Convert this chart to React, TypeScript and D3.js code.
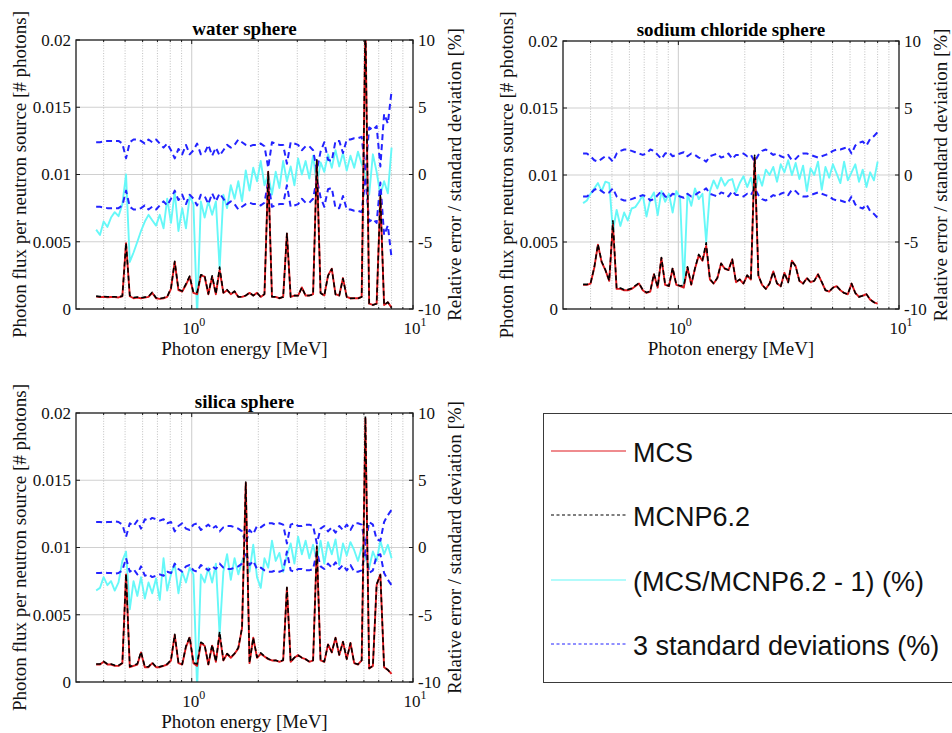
import React from "react";
import * as d3 from "d3";

// Photon energy grid [MeV]
const ENERGY = [
  0.370, 0.385, 0.400, 0.416, 0.432, 0.449, 0.467, 0.486, 0.505, 0.525,
  0.546, 0.568, 0.590, 0.614, 0.638, 0.663, 0.690, 0.717, 0.746, 0.775,
  0.806, 0.838, 0.871, 0.906, 0.942, 0.979, 1.018, 1.058, 1.100, 1.144,
  1.189, 1.237, 1.286, 1.337, 1.390, 1.445, 1.502, 1.562, 1.624, 1.688,
  1.755, 1.825, 1.897, 1.973, 2.051, 2.132, 2.217, 2.305, 2.396, 2.491,
  2.590, 2.693, 2.800, 2.911, 3.026, 3.146, 3.271, 3.401, 3.536, 3.676,
  3.822, 3.973, 4.131, 4.295, 4.465, 4.642, 4.826, 5.018, 5.217, 5.424,
  5.639, 5.862, 6.095, 6.337, 6.588, 6.849, 7.121, 7.403, 7.697, 8.002,
];

// ---- water sphere ----
const WATER_MCS = [
  0.00092, 0.00088, 0.00090, 0.00087, 0.00089, 0.00088, 0.00086, 0.00095, 0.0049, 0.00095,
  0.00080, 0.00085, 0.00080, 0.00085, 0.00090, 0.0012, 0.00080, 0.00075, 0.00080, 0.00090,
  0.0015, 0.0035, 0.0014, 0.0013, 0.0018, 0.0024, 0.0012, 0.0011, 0.0025, 0.0024,
  0.0011, 0.0024, 0.0011, 0.0029, 0.0012, 0.0014, 0.0011, 0.0013, 0.00090, 0.00090,
  0.0010, 0.0012, 0.0010, 0.0012, 0.00090, 0.0011, 0.0102, 0.00090, 0.00090, 0.00080,
  0.00090, 0.0056, 0.00090, 0.0010, 0.0010, 0.0016, 0.0010, 0.0010, 0.0011, 0.0110,
  0.0012, 0.0010, 0.0025, 0.0030, 0.0011, 0.0010, 0.0023, 0.00090, 0.00080, 0.00080,
  0.00080, 0.00090, 0.0215, 0.00040, 0.00030, 0.00040, 0.0083, 0.00030, 0.00050, 0.00010,
];
const WATER_REL = [
  -4.1, -4.5, -3.5, -3.9, -3.2, -2.8, -3.1, -2.2, 0.0, -6.5,
  -5.8, -5.0, -4.2, -3.5, -3.0, -3.4, -3.8, -3.0, -4.0, -1.8,
  -3.6, -1.3, -4.2, -2.5, -4.0, -1.6, -2.2, -10.5, -2.0, -3.2,
  -2.0, -3.0, -2.0, -7.0, -1.5, -2.5, -0.8, -1.8, -0.5, -2.0,
  0.3, -1.2, 0.5, -0.5, 1.0, -0.8, 0.0, -1.5, 0.2, -1.0,
  1.0, -0.5, 0.6, -0.8, 1.2, 0.0, 1.0, -0.3, 1.4, -0.8,
  0.9, 0.2, 1.5, 0.5, 1.8, 0.6, 1.6, 0.3, 1.4, 0.5,
  1.7, 0.8, 0.0, -1.5, 1.5, 0.2, -1.5, -0.5, -1.4, 2.0,
];
const WATER_SIG3 = [
  2.4, 2.4, 2.45, 2.5, 2.5, 2.5, 2.5, 2.3, 1.2, 2.4,
  2.6, 2.6, 2.5, 2.3, 2.6, 2.4, 2.6, 2.3, 2.0, 2.3,
  1.8, 1.2, 1.9, 1.5, 2.2, 1.5, 1.8, 2.3, 1.5, 1.6,
  2.2, 1.4, 2.0, 1.4, 1.8, 2.2, 2.0, 2.2, 2.6, 2.4,
  2.2, 2.1, 2.2, 2.2, 2.3, 2.1, 0.5, 2.4, 2.3, 2.2,
  2.2, 0.8, 2.4, 2.3, 2.2, 1.8, 2.1, 2.1, 1.8, 0.3,
  1.7, 2.4, 1.1, 1.0, 2.5, 2.5, 1.6, 2.6, 2.6, 2.7,
  2.7, 2.8, 0.2, 3.5, 3.3, 3.6, 0.6, 4.5, 3.8, 6.2,
];

// ---- sodium chloride sphere ----
const NACL_MCS = [
  0.0018, 0.0018, 0.0019, 0.0031, 0.0048, 0.0035, 0.0029, 0.0021, 0.0063, 0.0015,
  0.0015, 0.0014, 0.0014, 0.0015, 0.0017, 0.0019, 0.0014, 0.0012, 0.0013, 0.0026,
  0.0016, 0.0038, 0.0018, 0.0017, 0.0030, 0.0018, 0.0017, 0.0016, 0.0031, 0.0018,
  0.0030, 0.0040, 0.0036, 0.0047, 0.0022, 0.0019, 0.0023, 0.0034, 0.0030, 0.0029,
  0.0037, 0.0020, 0.0022, 0.0019, 0.0025, 0.0022, 0.0113, 0.0025, 0.0018, 0.0015,
  0.0019, 0.0028, 0.0019, 0.0017, 0.0027, 0.0020, 0.0036, 0.0032, 0.0021, 0.0019,
  0.0023, 0.0020, 0.0021, 0.0026, 0.0020, 0.0014, 0.0013, 0.0016, 0.0017, 0.0014,
  0.0012, 0.0011, 0.0019, 0.0012, 0.00090, 0.0010, 0.0011, 0.00070, 0.00050, 0.00040,
];
const NACL_REL = [
  -2.1, -1.9, -1.4, -1.0, -0.6, -1.2, -0.5, -0.6, -4.2, -2.6,
  -3.8, -2.8, -3.4, -2.5, -2.4, -2.0, -1.5, -3.1, -1.8, -1.3,
  -3.0, -1.2, -2.0, -1.4, -2.8, -1.2, -1.7, -8.4, -1.4, -2.3,
  -1.0, -1.8, -1.4, -5.0, -1.2, -0.4, -1.0, -0.2, -0.8, -0.4,
  -0.3, -1.3, -0.6, -0.1, -0.9, -0.2, -1.5, 0.0, -0.8, 0.4,
  0.0, 0.6, -0.5, 0.8, 0.2, 1.1, 0.0, 0.9, -0.3, 0.7,
  -1.2, 0.5, 0.0, 1.0, -1.1, 0.6, -0.2, 0.8, 0.1, -0.6,
  1.0, -0.4, 0.2, 0.8, -0.5, 0.4, -0.9, 0.2, -0.4, 1.0,
];
const NACL_SIG3 = [
  1.6, 1.6, 1.4, 1.1, 1.0, 1.2, 1.4, 1.3, 1.0, 1.6,
  1.8, 1.9, 1.9, 1.8, 1.7, 1.6, 1.5, 1.6, 1.9, 1.8,
  1.5, 1.2, 1.6, 1.7, 1.4, 1.5, 1.6, 1.7, 1.4, 1.6,
  1.5, 1.3, 1.2, 1.0, 1.4, 1.5, 1.6, 1.3, 1.4, 1.6,
  1.2, 1.5, 1.5, 1.6, 1.4, 1.5, 1.0, 1.5, 1.8, 1.9,
  1.7, 1.5, 1.6, 1.4, 1.3, 1.5, 1.1, 1.2, 1.5, 1.6,
  1.6, 1.5, 1.4, 1.3, 1.4, 1.5, 1.6, 1.8, 1.9, 1.9,
  2.0, 2.1, 1.6, 2.2, 2.4, 2.5, 2.2, 2.7, 2.9, 3.2,
];

// ---- silica sphere ----
const SILICA_MCS = [
  0.0013, 0.0013, 0.0015, 0.0013, 0.0013, 0.0012, 0.0012, 0.0014, 0.0080, 0.0011,
  0.0012, 0.0013, 0.0022, 0.0011, 0.0011, 0.0014, 0.0011, 0.0011, 0.0012, 0.0013,
  0.0016, 0.0035, 0.0014, 0.0013, 0.0026, 0.0033, 0.0014, 0.0012, 0.0029, 0.0027,
  0.0013, 0.0027, 0.0015, 0.0035, 0.0016, 0.0021, 0.0018, 0.0021, 0.0025, 0.0040,
  0.0148, 0.0014, 0.0033, 0.0018, 0.0021, 0.0019, 0.0017, 0.0016, 0.0016, 0.0015,
  0.0016, 0.0070, 0.0015, 0.0018, 0.0020, 0.0018, 0.0017, 0.0015, 0.0016, 0.0100,
  0.0016, 0.0015, 0.0028, 0.0022, 0.0033, 0.0020, 0.0030, 0.0017, 0.0029, 0.0014,
  0.0013, 0.0016, 0.0196, 0.0010, 0.0012, 0.0072, 0.0080, 0.0011, 0.00090, 0.00060,
];
const SILICA_REL = [
  -3.2, -3.0, -2.2, -2.8, -2.5, -3.2, -2.6, -1.0, -0.3, -4.6,
  -2.5, -3.6, -2.2, -3.8, -2.6, -3.4, -2.3, -3.9, -0.8, -3.2,
  -2.0, -1.2, -3.4, -1.8, -2.6, -1.5, -2.0, -10.5, -2.0, -2.6,
  -1.5, -2.6, -1.2, -6.5, -1.8, -0.5, -2.4, -0.8, -2.0, -1.0,
  -0.5, -1.8, 0.2, -2.2, -3.0, -0.8, -1.5, 0.5, -1.0, -0.4,
  -1.8, -0.6, 0.3, -1.2, 0.8, -0.5, 0.5, -0.8, 0.2, -1.0,
  0.5, -1.2, 0.4, -0.5, 0.6, -1.3, 0.3, -0.6, 0.4, -0.2,
  -1.0, 0.0, -0.8, -1.5, -0.3, -1.0, 0.5, -0.5, 0.2, -0.8,
];
const SILICA_SIG3 = [
  1.9, 1.9, 1.85, 1.9, 1.9, 1.95, 1.9, 1.7, 0.8, 1.8,
  1.6, 2.0, 1.4, 2.1, 2.0, 2.2, 2.1, 2.0, 2.1, 1.8,
  1.9, 1.2, 1.6, 1.8, 1.4, 1.3, 1.7, 1.8, 1.3, 1.5,
  1.7, 1.4, 1.6, 1.2, 1.5, 1.6, 1.6, 1.5, 1.4, 1.2,
  0.3, 1.3, 1.0, 1.6, 1.5, 1.7, 1.8, 1.8, 1.7, 1.8,
  1.7, 0.3, 1.7, 1.8, 1.6, 1.6, 1.7, 1.7, 1.6, 0.3,
  1.4, 1.6, 1.2, 1.5, 1.1, 1.6, 1.3, 1.7, 1.3, 1.8,
  1.8, 1.7, 0.2, 1.9, 1.7, 0.6, 0.5, 1.9, 2.4, 2.8,
];

const Y_LEFT_TICKS = [0, 0.005, 0.01, 0.015, 0.02];
const Y_LEFT_LABELS = ["0", "0.005", "0.01", "0.015", "0.02"];
const Y_RIGHT_TICKS = [-10, -5, 0, 5, 10];
const Y_RIGHT_LABELS = ["-10", "-5", "0", "5", "10"];
const X_MAJOR = [1, 10];
const X_MAJOR_EXP = ["0", "1"];
const X_MINOR = [0.4, 0.5, 0.6, 0.7, 0.8, 0.9, 2, 3, 4, 5, 6, 7, 8, 9];
const LEGEND_LABELS = ["MCS", "MCNP6.2", "(MCS/MCNP6.2 - 1) (%)", "3 standard deviations (%)"];

const SERIF = "'Liberation Serif', 'Times New Roman', serif";
const SANS = "'Liberation Sans', Arial, sans-serif";
const RED = "#e0191e";
const CYAN = "#66f8f8";
const BLUE = "#2323ff";

type Box = { left: number; right: number; top: number; bottom: number };

function Panel(props: {
  id: string;
  box: Box;
  title: string;
  mcs: number[];
  rel: number[];
  sig: number[];
}) {
  const { id, box, title, mcs, rel, sig } = props;
  const { left, right, top, bottom } = box;
  const x = d3.scaleLog().domain([0.3, 10]).range([left, right]);
  const yL = d3.scaleLinear().domain([0, 0.02]).range([bottom, top]);
  const yR = d3.scaleLinear().domain([-10, 10]).range([bottom, top]);
  const mcnp = mcs.map((v, i) => v / (1 + rel[i] / 100));
  const lineL = d3
    .line<number>()
    .x((_, i) => x(ENERGY[i]))
    .y((d) => yL(d));
  const lineR = d3
    .line<number>()
    .x((_, i) => x(ENERGY[i]))
    .y((d) => yR(d));
  const sigUp = sig;
  const sigLo = sig.map((v) => -v);
  const cx = (left + right) / 2;
  const cy = (top + bottom) / 2;
  return (
    <g>
      <defs>
        <clipPath id={id}>
          <rect x={left} y={top} width={right - left} height={bottom - top} />
        </clipPath>
      </defs>
      <rect x={left} y={top} width={right - left} height={bottom - top} fill="#fff" />
      {/* grid */}
      {Y_LEFT_TICKS.slice(1, -1).map((t) => (
        <line key={"hg" + t} x1={left} x2={right} y1={yL(t)} y2={yL(t)} stroke="#d0d0d0" strokeWidth={1.1} />
      ))}
      {X_MINOR.map((t) => (
        <line key={"vm" + t} x1={x(t)} x2={x(t)} y1={top} y2={bottom} stroke="#b0b0b0" strokeWidth={0.8} strokeDasharray="1,1.6" />
      ))}
      <line x1={x(1)} x2={x(1)} y1={top} y2={bottom} stroke="#d0d0d0" strokeWidth={1.1} />
      {/* data */}
      <g clipPath={`url(#${id})`} fill="none" strokeLinejoin="round">
        <path d={lineR(rel) || ""} stroke={CYAN} strokeWidth={1.9} />
        <path d={lineR(sigUp) || ""} stroke={BLUE} strokeWidth={2} strokeDasharray="6,4" />
        <path d={lineR(sigLo) || ""} stroke={BLUE} strokeWidth={2} strokeDasharray="6,4" />
        <path d={lineL(mcs) || ""} stroke={RED} strokeWidth={1.9} />
        <path d={lineL(mcnp) || ""} stroke="#000" strokeWidth={1.6} strokeDasharray="5,3" />
      </g>
      {/* axes box */}
      <rect x={left} y={top} width={right - left} height={bottom - top} fill="none" stroke="#1a1a1a" strokeWidth={1.3} />
      {/* ticks */}
      {Y_LEFT_TICKS.map((t) => (
        <line key={"lt" + t} x1={left} x2={left + 4} y1={yL(t)} y2={yL(t)} stroke="#1a1a1a" />
      ))}
      {Y_RIGHT_TICKS.map((t) => (
        <line key={"rt" + t} x1={right - 4} x2={right} y1={yR(t)} y2={yR(t)} stroke="#1a1a1a" />
      ))}
      {X_MINOR.map((t) => (
        <g key={"xt" + t}>
          <line x1={x(t)} x2={x(t)} y1={bottom} y2={bottom - 2} stroke="#1a1a1a" />
          <line x1={x(t)} x2={x(t)} y1={top} y2={top + 2} stroke="#1a1a1a" />
        </g>
      ))}
      {X_MAJOR.map((t) => (
        <g key={"xT" + t}>
          <line x1={x(t)} x2={x(t)} y1={bottom} y2={bottom - 4} stroke="#1a1a1a" />
          <line x1={x(t)} x2={x(t)} y1={top} y2={top + 4} stroke="#1a1a1a" />
        </g>
      ))}
      {/* tick labels */}
      <g fontFamily={SERIF} fontSize={17} fill="#111">
        {Y_LEFT_TICKS.map((t, i) => (
          <text key={"ll" + t} x={left - 5} y={yL(t)} dy="0.35em" textAnchor="end">
            {Y_LEFT_LABELS[i]}
          </text>
        ))}
        {Y_RIGHT_TICKS.map((t, i) => (
          <text key={"rl" + t} x={right + 5} y={yR(t)} dy="0.35em" textAnchor="start">
            {Y_RIGHT_LABELS[i]}
          </text>
        ))}
        {X_MAJOR.map((t, i) => (
          <text key={"xl" + t} x={x(t) + 2} y={bottom + 25} textAnchor="middle">
            <tspan>10</tspan>
            <tspan dy={-8} fontSize={12}>
              {X_MAJOR_EXP[i]}
            </tspan>
          </text>
        ))}
      </g>
      {/* titles */}
      <text x={cx} y={top - 5} textAnchor="middle" fontFamily={SERIF} fontSize={19} fontWeight="bold" fill="#000">
        {title}
      </text>
      <text x={cx} y={bottom + 46} textAnchor="middle" fontFamily={SERIF} fontSize={19} fill="#111">
        Photon energy [MeV]
      </text>
      <text
        transform={`translate(${left - 50},${cy}) rotate(-90)`}
        textAnchor="middle"
        fontFamily={SERIF}
        fontSize={19}
        fill="#111"
      >
        Photon flux per neutron source [# photons]
      </text>
      <text
        transform={`translate(${right + 48},${cy}) rotate(-90)`}
        textAnchor="middle"
        fontFamily={SERIF}
        fontSize={19}
        fill="#111"
      >
        Relative error / standard deviation [%]
      </text>
    </g>
  );
}

function Legend() {
  const ys = [451, 515, 580, 644];
  const styles = [
    { stroke: RED, dash: undefined as string | undefined },
    { stroke: "#000", dash: "3,2.5" },
    { stroke: CYAN, dash: undefined },
    { stroke: BLUE, dash: "3,2.5" },
  ];
  return (
    <g>
      <rect x={543.5} y={413.5} width={430} height={269} fill="#fff" stroke="#3a3a3a" strokeWidth={1} />
      {LEGEND_LABELS.map((lab, i) => (
        <g key={lab}>
          <line x1={551} x2={626} y1={ys[i]} y2={ys[i]} stroke={styles[i].stroke} strokeWidth={1.1} strokeDasharray={styles[i].dash} />
          <text x={633} y={ys[i] + 11} fontFamily={SANS} fontSize={27} fill="#111">
            {lab}
          </text>
        </g>
      ))}
    </g>
  );
}

export default function App() {
  return (
    <svg
      width={952}
      height={733}
      style={{ position: "absolute", left: 0, top: 0, display: "block", background: "#fff" }}
    >
      <rect x={0} y={0} width={952} height={733} fill="#fff" />
      <Panel id="clipW" box={{ left: 76, right: 413, top: 40, bottom: 309 }} title="water sphere" mcs={WATER_MCS} rel={WATER_REL} sig={WATER_SIG3} />
      <Panel id="clipN" box={{ left: 563, right: 899, top: 41, bottom: 309 }} title="sodium chloride sphere" mcs={NACL_MCS} rel={NACL_REL} sig={NACL_SIG3} />
      <Panel id="clipS" box={{ left: 76, right: 413, top: 413, bottom: 682 }} title="silica sphere" mcs={SILICA_MCS} rel={SILICA_REL} sig={SILICA_SIG3} />
      <Legend />
    </svg>
  );
}
